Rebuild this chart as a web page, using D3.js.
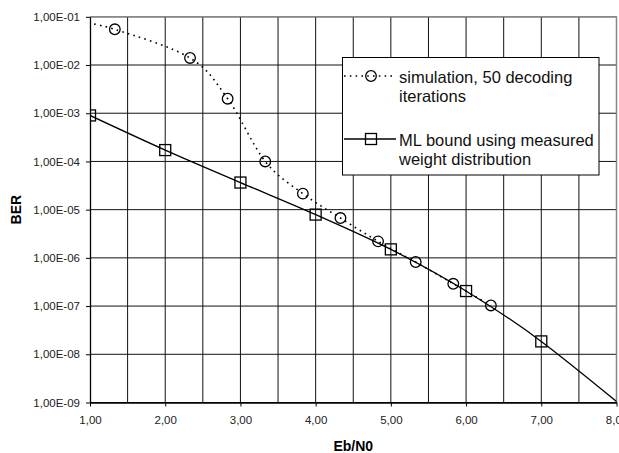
<!DOCTYPE html>
<html>
<head>
<meta charset="utf-8">
<script src="https://cdn.jsdelivr.net/npm/d3@7"></script>
<style>
  html, body { margin: 0; padding: 0; background: #fff; }
  svg { display: block; font-family: "Liberation Sans", Arial, sans-serif; }
</style>
</head>
<body>
<svg id="chart" width="619" height="453"></svg>
<script>
// Eb/N0 positions and BER values of the two curves
const simEbN0 = [0.83, 1.33, 2.33, 2.83, 3.33, 3.83, 4.33, 4.83, 5.33, 5.83, 6.33];
const simBER  = [8.0e-2, 5.5e-2, 1.4e-2, 2.0e-3, 1.0e-4, 2.15e-5, 6.7e-6, 2.2e-6, 8.2e-7, 2.9e-7, 1.03e-7];

const mlEbN0 = [1, 2, 3, 4, 5, 6, 7, 8.5];
const mlBER  = [9.0e-4, 1.72e-4, 3.65e-5, 7.9e-6, 1.5e-6, 2.05e-7, 1.85e-8, 2.4e-10];

// axis ticks and their printed labels
const xTickValues = [1, 2, 3, 4, 5, 6, 7, 8];
const xTickLabels = ["1,00", "2,00", "3,00", "4,00", "5,00", "6,00", "7,00", "8,00"];
const xGridValues = [1.5, 2, 2.5, 3, 3.5, 4, 4.5, 5, 5.5, 6, 6.5, 7, 7.5, 8];
const yTickValues = [1e-1, 1e-2, 1e-3, 1e-4, 1e-5, 1e-6, 1e-7, 1e-8, 1e-9];
const yTickLabels = ["1,00E-01", "1,00E-02", "1,00E-03", "1,00E-04", "1,00E-05",
                     "1,00E-06", "1,00E-07", "1,00E-08", "1,00E-09"];

const seriesNames = ["simulation, 50 decoding|iterations",
                     "ML bound using measured|weight distribution"];

const svg = d3.select("#chart");
const pLeft = 90, pRight = 616.5, pTop = 16.8, pBottom = 402.5;

const x = d3.scaleLinear().domain([1, 8]).range([pLeft, pRight]);
const y = d3.scaleLog().domain([1e-9, 1e-1]).range([pBottom, pTop]);

svg.append("defs").append("clipPath").attr("id", "plotClip")
  .append("rect").attr("x", pLeft).attr("y", pTop)
  .attr("width", pRight - pLeft).attr("height", pBottom - pTop);

// grid
const grid = svg.append("g");
grid.selectAll("line.v").data(xGridValues).join("line")
  .attr("x1", d => x(d)).attr("x2", d => x(d))
  .attr("y1", pTop).attr("y2", pBottom)
  .attr("stroke", "#111").attr("stroke-width", 1);
grid.selectAll("line.h").data(yTickValues).join("line")
  .attr("x1", pLeft).attr("x2", pRight)
  .attr("y1", d => y(d)).attr("y2", d => y(d))
  .attr("stroke", "#111").attr("stroke-width", 1);
// top and right frame
grid.append("line").attr("x1", pLeft).attr("x2", pRight).attr("y1", pTop).attr("y2", pTop)
  .attr("stroke", "#888").attr("stroke-width", 1.5);
grid.append("line").attr("x1", pRight).attr("x2", pRight).attr("y1", pTop).attr("y2", pBottom)
  .attr("stroke", "#888").attr("stroke-width", 1.5);

// axes
const xAxis = d3.axisBottom(x).tickValues(xTickValues)
  .tickFormat((d, i) => xTickLabels[i]).tickSize(4).tickSizeOuter(0).tickPadding(9);
const yAxis = d3.axisLeft(y).tickValues(yTickValues)
  .tickFormat((d, i) => yTickLabels[i]).tickSize(4).tickSizeOuter(0).tickPadding(6);

const gx = svg.append("g").attr("transform", `translate(0,${pBottom})`).call(xAxis);
const gy = svg.append("g").attr("transform", `translate(${pLeft},0)`).call(yAxis);
[gx, gy].forEach(g => {
  g.select(".domain").attr("stroke", "#000").attr("stroke-width", 1.3);
  g.selectAll(".tick line").attr("stroke", "#000");
  g.selectAll(".tick text").attr("fill", "#222")
    .style("font-family", "'Liberation Sans', Arial, sans-serif").style("font-size", "11.5px");
});

// axis titles
svg.append("text").attr("x", (pLeft + pRight) / 2).attr("y", 451)
  .attr("text-anchor", "middle").attr("font-weight", "bold").attr("font-size", "14px")
  .text("Eb/N0");
svg.append("text").attr("transform", `translate(21,${(pTop + pBottom) / 2}) rotate(-90)`)
  .attr("text-anchor", "middle").attr("font-weight", "bold").attr("font-size", "14px")
  .text("BER");

// series
const plot = svg.append("g").attr("clip-path", "url(#plotClip)");
const line = d3.line().x(d => x(d[0])).y(d => y(d[1])).curve(d3.curveCatmullRom.alpha(0));

const simPts = simEbN0.map((v, i) => [v, simBER[i]]);
const mlPts = mlEbN0.map((v, i) => [v, mlBER[i]]);

plot.append("path").datum(simPts).attr("d", line)
  .attr("fill", "none").attr("stroke", "#000").attr("stroke-width", 1.6)
  .attr("stroke-dasharray", "1.6,4.2");
plot.append("path").datum(mlPts).attr("d", line)
  .attr("fill", "none").attr("stroke", "#000").attr("stroke-width", 1.3);

plot.selectAll("circle.sim").data(simPts).join("circle")
  .attr("cx", d => x(d[0])).attr("cy", d => y(d[1])).attr("r", 5.3)
  .attr("fill", "none").attr("stroke", "#000").attr("stroke-width", 1.3);
plot.selectAll("rect.ml").data(mlPts).join("rect")
  .attr("x", d => x(d[0]) - 5.5).attr("y", d => y(d[1]) - 5.5)
  .attr("width", 11).attr("height", 11)
  .attr("fill", "none").attr("stroke", "#000").attr("stroke-width", 1.3);

// legend
const lg = svg.append("g");
lg.append("rect").attr("x", 342.5).attr("y", 57.5).attr("width", 256.5).attr("height", 117.5)
  .attr("fill", "#fff").attr("stroke", "#000").attr("stroke-width", 1);

const rows = [{ y: 76, dash: "1.6,4.2", mark: "circle", text: seriesNames[0], x1: 344, x2: 396 },
              { y: 139, dash: null, mark: "rect", text: seriesNames[1], x1: 344, x2: 396 }];
rows.forEach(r => {
  lg.append("line").attr("x1", r.x1).attr("x2", r.x2).attr("y1", r.y).attr("y2", r.y)
    .attr("stroke", "#000").attr("stroke-width", r.dash ? 1.6 : 1.3)
    .attr("stroke-dasharray", r.dash);
  if (r.mark === "circle") {
    lg.append("circle").attr("cx", 371).attr("cy", r.y).attr("r", 5.3)
      .attr("fill", "none").attr("stroke", "#000").attr("stroke-width", 1.3);
  } else {
    lg.append("rect").attr("x", 371 - 5.5).attr("y", r.y - 5.5).attr("width", 11).attr("height", 11)
      .attr("fill", "none").attr("stroke", "#000").attr("stroke-width", 1.3);
  }
  const t = lg.append("text").attr("x", 399).attr("y", r.y + 7)
    .attr("font-size", "16.5px").attr("fill", "#111");
  r.text.split("|").forEach((s, i) => {
    t.append("tspan").attr("x", 399).attr("dy", i === 0 ? 0 : 19).text(s);
  });
});
</script>
</body>
</html>
